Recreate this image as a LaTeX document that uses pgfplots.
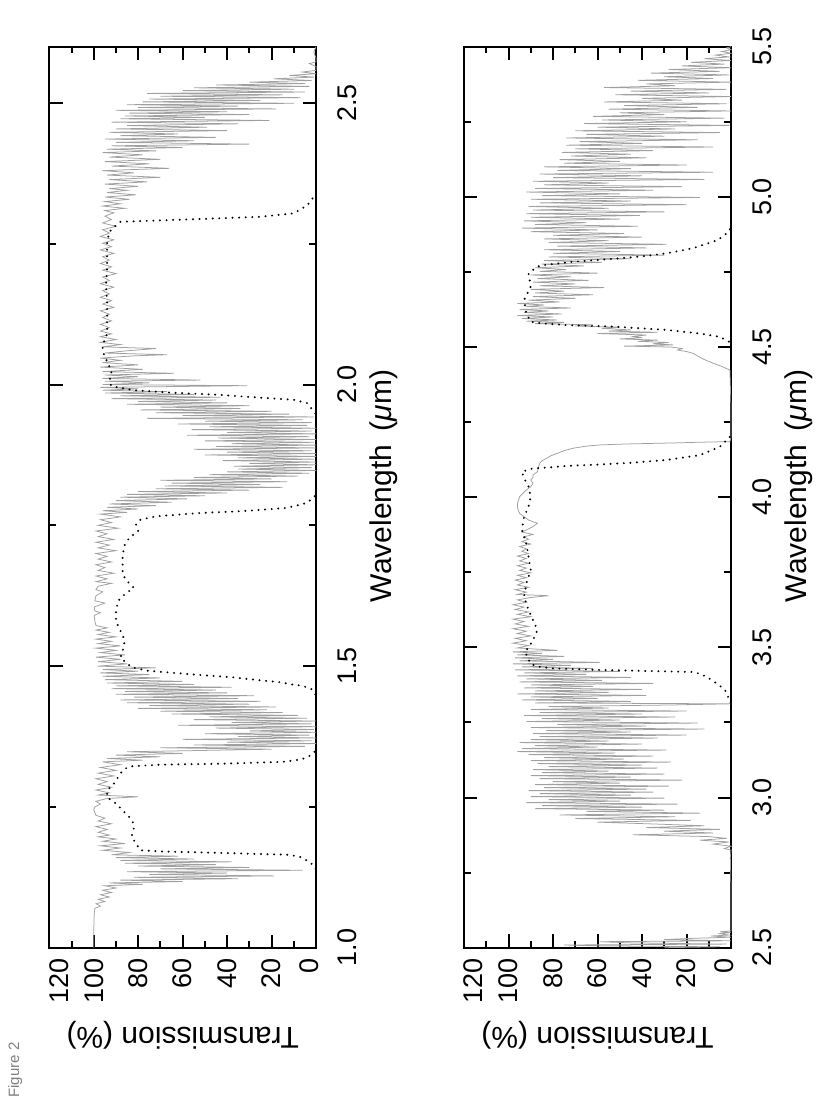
\documentclass[border=0pt]{standalone}
\usepackage{fontspec}
\setmainfont{Liberation Sans}
\usepackage{graphicx}
\usepackage{pgfplots}
\pgfplotsset{compat=1.18}
\definecolor{speccol}{RGB}{160,160,160}
\pgfplotsset{
 panel/.style={
  scale only axis, width=450.5pt, clip=false,
  ymin=0, ymax=120, ytick={0,20,...,120}, minor ytick={10,30,...,110},
  yticklabels={{\raisebox{3.6pt}[\height][\depth]{0}},20,40,60,80,100,{\raisebox{-4.75pt}[\height][\depth]{120}}},
  tick align=inside, major tick length=6.6pt, minor tick length=3.3pt,
  tick style={black, line width=1pt},
  axis line style={line width=1pt},
  ticklabel style={font=\fontsize{13.5}{16}\selectfont},
  xticklabel style={anchor=base, yshift=-20pt, inner sep=0pt},
  yticklabel style={anchor=east, xshift=-5.15pt, inner sep=0pt},
  label style={font=\fontsize{15}{18}\selectfont},
  xlabel={Wavelength\hspace{0.45em}(\textit{μ}m)},
  ylabel={Transmission (\%)},
  ylabel style={at={(axis description cs:-0.08801,0.5)}, anchor=base, inner sep=0pt},
 },
 specline/.style={color=speccol, line width=0.38pt},
 filt/.style={black, line width=1.1pt, line cap=round, dash pattern=on 0pt off 3.3pt},
}
\begin{document}
\rotatebox{90}{%
\begin{tikzpicture}
\useasboundingbox (0pt,0pt) rectangle (551pt,-415pt);
\node[anchor=base west, inner sep=0pt, text=gray, font=\fontsize{7.5}{9}\selectfont] at (2pt,-9.5pt) {Figure 2};
\begin{axis}[panel, at={(77.15pt,-158pt)}, anchor=south west, height=133.35pt,
  xmin=1.0, xmax=2.6, xtick={1.0,1.5,2.0,2.5}, xticklabels={1.0,1.5,2.0,2.5},
  minor xtick={1.25,1.75,2.25},
  xlabel style={at={(axis description cs:0.5124,-0.2838)}, anchor=base, inner sep=0pt}]
\addplot[specline] coordinates {
(1.000,100)(1.030,100)(1.060,99.8)(1.070,99.5)
(1.074,97)(1.078,99)(1.082,95)(1.086,98)(1.090,93)(1.094,97)(1.098,92)(1.102,96)(1.106,90)(1.110,95)
(1.1125,78)(1.115,93)(1.1175,60)(1.120,88)(1.1225,35)(1.125,82)(1.1275,19)(1.130,75)(1.1325,40)(1.135,85)(1.1375,6)(1.140,70)(1.1425,30)(1.145,80)(1.1475,45)(1.150,86)(1.1525,38)(1.155,88)(1.1575,55)(1.160,90)(1.1625,62)(1.165,92)
(1.169,84)(1.173,96)(1.177,88)(1.181,97)(1.185,86)(1.189,96)(1.193,90)(1.197,98)(1.200,93)
(1.205,98)(1.210,94)(1.215,99)(1.220,92)(1.225,98)(1.230,95)(1.235,99)(1.240,99.5)(1.245,100)(1.250,99.5)(1.255,97)(1.260,99)(1.265,94)(1.268,80)(1.271,98)(1.275,93)(1.280,99)(1.285,92)(1.290,98)(1.295,94)(1.300,99)(1.305,91)(1.310,98)(1.315,90)(1.320,97)(1.325,88)(1.330,96)
(1.333,78)(1.336,94)(1.339,70)(1.342,90)(1.345,60)(1.348,85)(1.350,55)
(1.3525,20)(1.355,70)(1.3575,5)(1.360,55)(1.3625,0)(1.365,40)(1.3675,2)(1.370,60)(1.3725,0)(1.375,35)(1.3775,3)(1.380,50)(1.3825,0)(1.385,30)(1.3875,1)(1.390,45)(1.3925,0)(1.395,62)(1.3975,2)(1.400,38)(1.4025,0)(1.405,55)(1.4075,4)(1.410,48)
(1.4125,8)(1.415,65)(1.4175,15)(1.420,70)(1.4225,22)(1.425,80)(1.4275,18)(1.430,75)(1.4325,30)(1.435,85)(1.4375,25)(1.440,88)(1.4425,35)(1.445,82)(1.4475,28)(1.450,90)(1.4525,40)(1.455,86)(1.4575,45)(1.460,92)(1.4625,38)(1.465,90)(1.4675,55)(1.470,94)
(1.473,60)(1.476,95)(1.479,70)(1.482,96)(1.485,75)(1.488,97)(1.491,80)(1.494,96)(1.497,72)(1.500,98)
(1.504,85)(1.508,98)(1.512,88)(1.516,99)(1.520,86)(1.524,97)(1.528,90)(1.532,99)(1.536,88)(1.540,98)(1.544,92)(1.548,99)(1.552,90)(1.556,98)(1.560,93)(1.564,99)(1.568,94)(1.572,99)
(1.580,99.5)(1.590,99.8)(1.595,97)(1.598,99.5)(1.605,99.8)(1.612,95)(1.616,99.5)(1.625,99)(1.632,96)(1.636,99)(1.642,98)
(1.647,92)(1.650,99)(1.655,94)(1.660,99)(1.665,91)(1.670,98)(1.675,95)(1.680,99)(1.685,92)(1.690,98)(1.695,94)(1.700,99)(1.705,90)(1.710,98)(1.715,93)(1.720,99)(1.725,91)(1.730,98)(1.735,94)(1.740,99)(1.745,89)(1.750,98)(1.755,92)(1.760,97)(1.765,88)(1.770,97)
(1.773,85)(1.776,96)(1.779,80)(1.782,94)(1.785,72)(1.788,93)(1.791,65)(1.794,90)(1.797,58)(1.800,88)
(1.8025,50)(1.805,85)(1.8075,40)(1.810,80)(1.8125,30)(1.815,72)(1.8175,15)(1.820,68)(1.8225,25)(1.825,65)
(1.8275,13)(1.830,70)(1.8325,20)(1.835,55)(1.8375,8)(1.840,48)(1.8425,3)(1.845,40)(1.8475,0)(1.850,35)(1.8525,2)(1.855,37)(1.8575,0)(1.860,30)(1.8625,0)(1.865,42)(1.8675,1)(1.870,35)(1.8725,0)(1.875,50)(1.8775,0)(1.880,40)(1.8825,2)(1.885,55)(1.8875,0)(1.890,45)(1.8925,0)(1.895,38)(1.8975,1)(1.900,50)(1.9025,0)(1.905,44)(1.9075,3)(1.910,58)(1.9125,0)(1.915,40)(1.9175,2)(1.920,56)(1.9225,0)(1.925,48)(1.9275,4)(1.930,62)(1.9325,2)(1.935,50)(1.9375,6)(1.940,76)(1.9425,1)(1.945,60)(1.9475,12)(1.950,72)(1.9525,20)(1.955,79)(1.9575,34)(1.960,70)(1.9625,30)(1.965,85)(1.9675,40)(1.970,80)(1.9725,45)(1.975,92)(1.9775,43)(1.980,88)(1.9825,55)(1.985,95)(1.9875,67)(1.990,96)
(1.9925,80)(1.995,97)(1.998,31)(2.000,96)(2.003,75)(2.006,95)(2.008,52)(2.011,96)(2.014,80)(2.017,95)(2.020,64)(2.023,96)(2.027,78)(2.031,97)(2.035,80)(2.039,96)
(2.043,88)(2.047,97)(2.051,82)(2.053,67)(2.056,95)(2.060,85)(2.064,72)(2.067,96)(2.071,88)(2.075,97)(2.080,90)(2.085,97)(2.090,92)(2.095,97)
(2.101,93)(2.107,97)(2.113,92)(2.119,96)(2.125,93)(2.131,97)(2.137,91)(2.143,96)(2.149,92)(2.155,97)(2.161,93)(2.167,96)(2.173,91)(2.179,97)(2.185,93)(2.191,96)(2.197,90)(2.203,96)(2.209,92)(2.215,97)(2.221,93)(2.227,96)(2.233,91)(2.239,97)(2.245,92)(2.251,96)(2.257,91)(2.263,97)(2.269,93)(2.275,96)(2.281,90)(2.287,96)(2.293,92)(2.299,95)(2.305,91)
(2.309,95)(2.313,86)(2.317,96)(2.321,88)(2.325,95)(2.329,84)(2.333,95)(2.337,81)(2.341,94)(2.345,85)(2.348,93)
(2.352,80)(2.356,95)(2.360,76)(2.364,93)(2.368,70)(2.372,94)(2.376,82)(2.380,96)(2.384,66)(2.388,92)(2.392,75)(2.396,95)(2.400,70)(2.404,93)(2.408,78)(2.412,96)
(2.415,72)(2.418,94)(2.421,60)(2.424,92)(2.427,30)(2.430,90)(2.433,55)(2.436,95)(2.439,45)(2.442,88)(2.445,62)(2.448,93)(2.451,40)(2.454,90)(2.457,49)(2.460,85)(2.463,35)(2.466,92)(2.469,21)(2.472,88)
(2.4745,50)(2.477,86)(2.4795,30)(2.482,84)(2.4845,40)(2.487,90)(2.4895,18)(2.492,80)(2.4945,35)(2.497,85)(2.4995,10)(2.502,78)(2.5045,25)(2.507,75)
(2.5095,7)(2.512,70)(2.5145,15)(2.517,76)(2.5195,5)(2.522,60)(2.5245,10)(2.527,55)(2.5295,3)(2.532,45)(2.5345,5)(2.537,30)
(2.540,2)(2.543,19)(2.546,1)(2.549,12)(2.552,0)(2.555,6)
(2.558,0)(2.565,0)(2.570,3)(2.573,0)(2.580,0)(2.590,1)(2.600,0)
};
\addplot[filt] coordinates {
(1.140,0.2)(1.146,1)(1.152,3)(1.157,5)(1.161,7)(1.165,12)(1.168,40)(1.171,70)(1.173,79)(1.185,81)(1.197,83)(1.210,82)(1.220,82)(1.232,84)(1.244,87)(1.256,90)(1.267,94)(1.279,94)(1.291,91)(1.303,89)(1.315,87)(1.322,84)(1.325,70)(1.327,40)(1.330,15)(1.334,7)(1.338,4)(1.344,1.5)(1.350,0.3)
};
\addplot[filt] coordinates {
(1.450,0.3)(1.459,2)(1.465,6)(1.468,12)(1.471,15)(1.476,28)(1.480,37)(1.486,58)(1.492,76)(1.498,83)(1.515,88)(1.527,87)(1.545,86)(1.563,88)(1.580,90)(1.598,90)(1.616,89)(1.628,86)(1.639,82)(1.651,85)(1.663,87)(1.681,87)(1.698,87)(1.716,86)(1.728,84)(1.740,80)(1.752,81)(1.760,79)(1.766,72)(1.772,52)(1.775,34)(1.781,13)(1.790,4)(1.802,0.5)
};
\addplot[filt] coordinates {
(1.949,0.3)(1.967,4)(1.973,10)(1.976,22)(1.982,45)(1.986,67)(1.990,82)(1.997,92)(2.005,93)(2.023,92)(2.041,94)(2.059,96)(2.070,96)(2.090,94)(2.112,94)(2.147,94)(2.177,94.5)(2.206,94)(2.230,94)(2.253,94)(2.271,93)(2.283,90)(2.289,88)(2.292,67)(2.295,45)(2.298,25)(2.304,10)(2.318,4)(2.336,0.5)
};
\end{axis}
\begin{axis}[panel, at={(77.15pt,-365.5pt)}, anchor=south west, height=133.5pt,
  xmin=2.5, xmax=5.5, xtick={2.5,3.0,3.5,4.0,4.5,5.0,5.5}, xticklabels={2.5,3.0,3.5,4.0,4.5,5.0,5.5},
  minor xtick={2.75,3.25,3.75,4.25,4.75,5.25},
  xlabel style={at={(axis description cs:0.5124,-0.2835)}, anchor=base, inner sep=0pt}]
\addplot[specline] coordinates {
(2.500,30)(2.503,5)(2.506,60)(2.509,75)(2.512,2)(2.516,45)(2.520,59)(2.523,0)(2.527,30)(2.531,18)(2.535,0)(2.539,9)(2.542,1)(2.547,5)(2.550,0)(2.553,5)(2.556,0)(2.600,0)(2.700,0)(2.800,0.3)(2.825,0)
(2.830,3)(2.838,0)(2.845,8)(2.852,1)(2.858,14)(2.864,2)(2.870,10)
(2.876,44)(2.882,8)(2.888,30)(2.894,5)(2.900,38)(2.906,12)(2.912,35)
(2.918,60)(2.924,18)(2.930,70)(2.936,25)(2.942,77)(2.948,14)(2.954,65)(2.958,30)
(2.963,88)(2.968,40)(2.973,85)(2.978,24)(2.983,92)(2.988,50)(2.993,82)(2.998,30)(3.003,90)(3.008,45)(3.013,86)(3.018,35)(3.023,91)
(3.028,38)(3.033,84)(3.038,28)(3.043,88)(3.048,50)(3.053,80)(3.058,22)(3.063,86)(3.068,45)(3.073,90)(3.078,30)(3.083,85)(3.088,55)(3.093,89)(3.098,33)(3.103,82)(3.108,40)(3.113,87)(3.118,27)(3.123,90)(3.128,48)(3.133,84)
(3.138,35)(3.143,91)(3.148,52)(3.153,96)(3.158,29)(3.163,94)(3.168,60)(3.173,88)(3.178,40)(3.183,95)(3.188,55)(3.193,90)(3.198,33)
(3.203,86)(3.208,20)(3.213,89)(3.218,45)(3.223,83)(3.228,12)(3.233,90)(3.238,38)(3.243,78)(3.248,15)(3.253,92)(3.258,50)(3.263,85)(3.268,25)
(3.273,93)(3.278,40)(3.283,86)(3.288,20)(3.293,90)(3.298,55)(3.303,82)(3.308,28)(3.312,0)(3.315,88)
(3.320,45)(3.325,94)(3.330,60)(3.335,90)(3.340,38)(3.345,96)(3.350,55)(3.355,88)(3.360,40)(3.365,93)(3.370,62)(3.375,90)(3.380,35)(3.385,95)(3.390,58)(3.395,92)(3.400,45)(3.405,96)(3.410,65)(3.415,93)(3.420,50)
(3.425,97)(3.430,62)(3.435,94)(3.440,72)(3.445,98)(3.450,59)(3.455,95)(3.460,80)(3.465,97)(3.470,75)(3.475,96)(3.480,85)(3.485,98)(3.490,78)
(3.498,96)(3.506,91)(3.514,98)(3.522,92)(3.530,97)(3.538,90)(3.546,96)(3.554,92)(3.562,98)(3.570,91)(3.578,97)(3.586,93)(3.594,98)(3.602,90)(3.610,96)(3.618,91)(3.626,97)(3.634,93)(3.642,98)(3.650,92)(3.658,96)(3.666,90)(3.672,82)(3.676,96)(3.684,92)(3.692,97)(3.700,91)(3.708,96)(3.716,93)(3.724,97)(3.732,92)(3.740,96)(3.748,90)(3.756,95)(3.764,92)(3.772,96)(3.780,91)(3.788,95)(3.796,92)(3.804,96)(3.812,91)(3.820,94)(3.828,92)(3.836,95)(3.844,90)(3.852,94)(3.860,91)(3.868,93)(3.876,89)(3.884,94)
(3.891,92)(3.902,89)(3.913,87)(3.924,91)(3.935,93)(3.946,95)(3.957,95.6)(3.968,96)(3.979,96)(3.990,95.5)(4.002,95)(4.013,93.5)(4.024,92)(4.035,90)(4.046,89)(4.057,90)(4.066,89)(4.074,89)(4.085,87)(4.100,86.5)(4.113,86)(4.121,85)(4.129,83)(4.138,81)(4.146,78)(4.155,75)(4.163,71)(4.170,65)(4.174,59)(4.177,48)(4.179,36)(4.181,24)(4.183,14)(4.185,0.5)(4.200,0)(4.300,0)(4.423,0.5)
(4.435,4)(4.446,8)(4.455,11)(4.462,13)(4.470,15)(4.479,17)(4.485,20)(4.490,24)(4.495,22)(4.500,27)(4.503,48)(4.507,26)(4.511,35)(4.515,28)(4.519,42)(4.523,33)(4.527,50)(4.531,40)(4.535,44)(4.540,38)(4.545,60)(4.549,33)(4.553,55)(4.557,45)(4.562,58)(4.566,50)(4.570,70)(4.574,62)(4.578,88)(4.582,75)(4.586,92)(4.590,78)(4.595,94)(4.600,80)(4.605,96)(4.610,76)(4.615,93)(4.620,82)(4.625,95)(4.630,72)(4.635,92)(4.640,84)(4.645,96)(4.650,77)(4.656,91)(4.662,70)(4.668,89)(4.674,62)(4.680,88)(4.686,75)(4.692,90)(4.698,57)(4.704,86)(4.710,70)(4.716,89)(4.722,64)(4.728,87)(4.734,72)(4.740,90)(4.746,60)(4.752,86)(4.758,74)(4.764,88)(4.770,66)(4.776,85)(4.782,58)(4.788,84)(4.794,45)(4.800,82)(4.806,30)(4.812,80)(4.818,50)(4.824,84)(4.830,38)(4.836,78)(4.842,29)(4.848,82)(4.854,55)(4.860,84)(4.866,40)(4.872,80)(4.878,48)(4.884,90)(4.890,60)(4.896,94)(4.902,42)(4.908,88)(4.914,65)(4.920,93)(4.926,50)(4.932,90)(4.938,41)(4.944,92)(4.950,30)(4.956,89)(4.962,55)(4.968,91)(4.974,20)(4.980,86)(4.986,45)(4.992,90)(4.998,14)(5.004,85)(5.010,50)(5.016,92)(5.022,35)(5.028,88)(5.034,22)(5.040,84)(5.046,55)(5.052,89)(5.058,12)(5.064,80)(5.070,40)(5.076,86)(5.082,8)(5.088,78)(5.094,45)(5.100,84)(5.106,20)(5.112,75)(5.118,50)(5.124,77)(5.130,38)(5.136,72)(5.142,45)(5.148,76)(5.154,35)(5.160,70)(5.166,8)(5.172,74)(5.178,40)(5.184,68)(5.190,15)(5.196,74)(5.202,30)(5.208,65)(5.214,5)(5.220,70)(5.226,25)(5.232,60)(5.238,1)(5.244,66)(5.250,20)(5.256,58)(5.262,3)(5.268,62)(5.274,30)(5.280,50)(5.286,0)(5.292,55)(5.298,15)(5.304,48)(5.310,2)(5.316,57)(5.322,22)(5.328,40)(5.334,0)(5.340,52)(5.346,10)(5.352,45)(5.358,2)(5.364,57)(5.370,25)(5.376,38)(5.382,0)(5.388,42)(5.394,8)(5.400,30)(5.406,1)(5.412,36)(5.418,5)(5.424,28)(5.430,0)(5.436,22)(5.442,3)(5.448,18)(5.454,0)(5.460,12)(5.466,1)(5.472,7)(5.478,0)(5.484,4)(5.490,0)(5.496,2)(5.500,0)
};
\addplot[filt] coordinates {
(3.315,0.2)(3.330,1)(3.358,2.7)(3.380,6.4)(3.402,11)(3.412,14)(3.418,17)(3.421,35)(3.425,60)(3.430,80)(3.436,87)(3.445,90)(3.460,91)(3.486,92.6)(3.500,91)(3.524,89)(3.558,87)(3.591,89)(3.624,91)(3.669,93)(3.713,92)(3.757,90)(3.802,91)(3.846,92)(3.891,94)(3.935,93)(3.968,91)(4.002,90)(4.035,91)(4.063,93)(4.085,94)(4.096,89)(4.100,80)(4.104,74)(4.109,59)(4.115,44)(4.124,29)(4.140,14)(4.168,5)(4.201,0.5)
};
\addplot[filt] coordinates {
(4.518,1)(4.534,5)(4.545,14)(4.557,29)(4.568,53)(4.573,74)(4.578,84)(4.584,90)(4.612,92)(4.656,93)(4.701,90)(4.745,91)(4.768,87)(4.773,84)(4.784,71)(4.792,56)(4.801,41)(4.812,29)(4.829,17)(4.856,6)(4.884,1)(4.900,0)
};
\end{axis}
\end{tikzpicture}}
\end{document}
